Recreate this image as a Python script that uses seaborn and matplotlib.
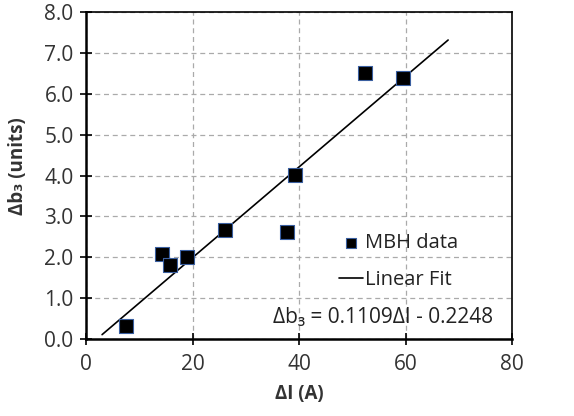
import matplotlib
matplotlib.use("Agg")
import matplotlib.pyplot as plt
import seaborn as sns
import pandas as pd

# Data
delta_i = [7.5, 14.2, 15.7, 19.0, 26.1, 37.8, 39.3, 52.4, 59.5]
delta_b3 = [0.32, 2.08, 1.81, 2.00, 2.66, 2.63, 4.02, 6.51, 6.39]
fit_x = [3.0, 68.0]
fit_y = [0.108, 7.316]
x_ticks = [0, 20, 40, 60, 80]
y_ticks = [0.0, 1.0, 2.0, 3.0, 4.0, 5.0, 6.0, 7.0, 8.0]
equation = "\u0394b\u2083 = 0.1109\u0394I - 0.2248"

sns.set_theme(style="white")
plt.rcParams['font.family'] = ['Open Sans', 'DejaVu Sans']

df = pd.DataFrame({"dI": delta_i, "db3": delta_b3})
fit = pd.DataFrame({"x": fit_x, "y": fit_y})

fig = plt.figure(figsize=(5.74, 4.16), dpi=100)
ax = fig.add_axes([0.150, 0.185, 0.742, 0.786])

sns.lineplot(data=fit, x="x", y="y", ax=ax, color="black", linewidth=1.2,
             label="Linear Fit", zorder=3)
sns.scatterplot(data=df, x="dI", y="db3", ax=ax, marker="s", s=110,
                color="black", edgecolor="#3a5fa0", linewidth=0.8,
                label="MBH data", zorder=4)

ax.set_xlim(0, 80)
ax.set_ylim(0, 8)
ax.set_xticks(x_ticks)
ax.set_yticks(y_ticks)
ax.set_yticklabels([f"{v:.1f}" for v in y_ticks])
ax.grid(True, linestyle=(0, (4, 3)), color="#aaaaaa", linewidth=0.9)

for side in ["left", "bottom", "right", "top"]:
    ax.spines[side].set_visible(True)
    ax.spines[side].set_color("black")
ax.spines["left"].set_linewidth(1.8)
ax.spines["bottom"].set_linewidth(1.8)
ax.spines["right"].set_linewidth(1.2)
ax.spines["top"].set_linewidth(1.2)

ax.tick_params(axis="both", direction="inout", length=8, width=1.2,
               labelsize=15, colors="black", labelcolor="#333333",
               left=True, bottom=True)
ax.tick_params(axis="x", pad=7)
ax.tick_params(axis="y", pad=5)

ax.set_xlabel("\u0394I (A)", fontsize=13.5, fontweight="bold", color="#333333")
ax.set_ylabel("\u0394b\u2083 (units)", fontsize=13.5, fontweight="bold", color="#333333")
ax.xaxis.set_label_coords(0.5, -0.138)
ax.yaxis.set_label_coords(-0.137, 0.53)

handles, labels = ax.get_legend_handles_labels()
order = [labels.index("MBH data"), labels.index("Linear Fit")]
leg = ax.legend([handles[i] for i in order], [labels[i] for i in order],
                loc="center left", bbox_to_anchor=(0.575, 0.237), frameon=False,
                fontsize=14.5, handlelength=1.2, handletextpad=0.1,
                labelspacing=0.85, borderaxespad=0, markerscale=0.75)
for t in leg.get_texts():
    t.set_color("#222222")

ax.text(0.956, 0.067, equation, transform=ax.transAxes, ha="right", va="center",
        fontsize=15, color="#222222")

fig.savefig("out.png", dpi=100)
